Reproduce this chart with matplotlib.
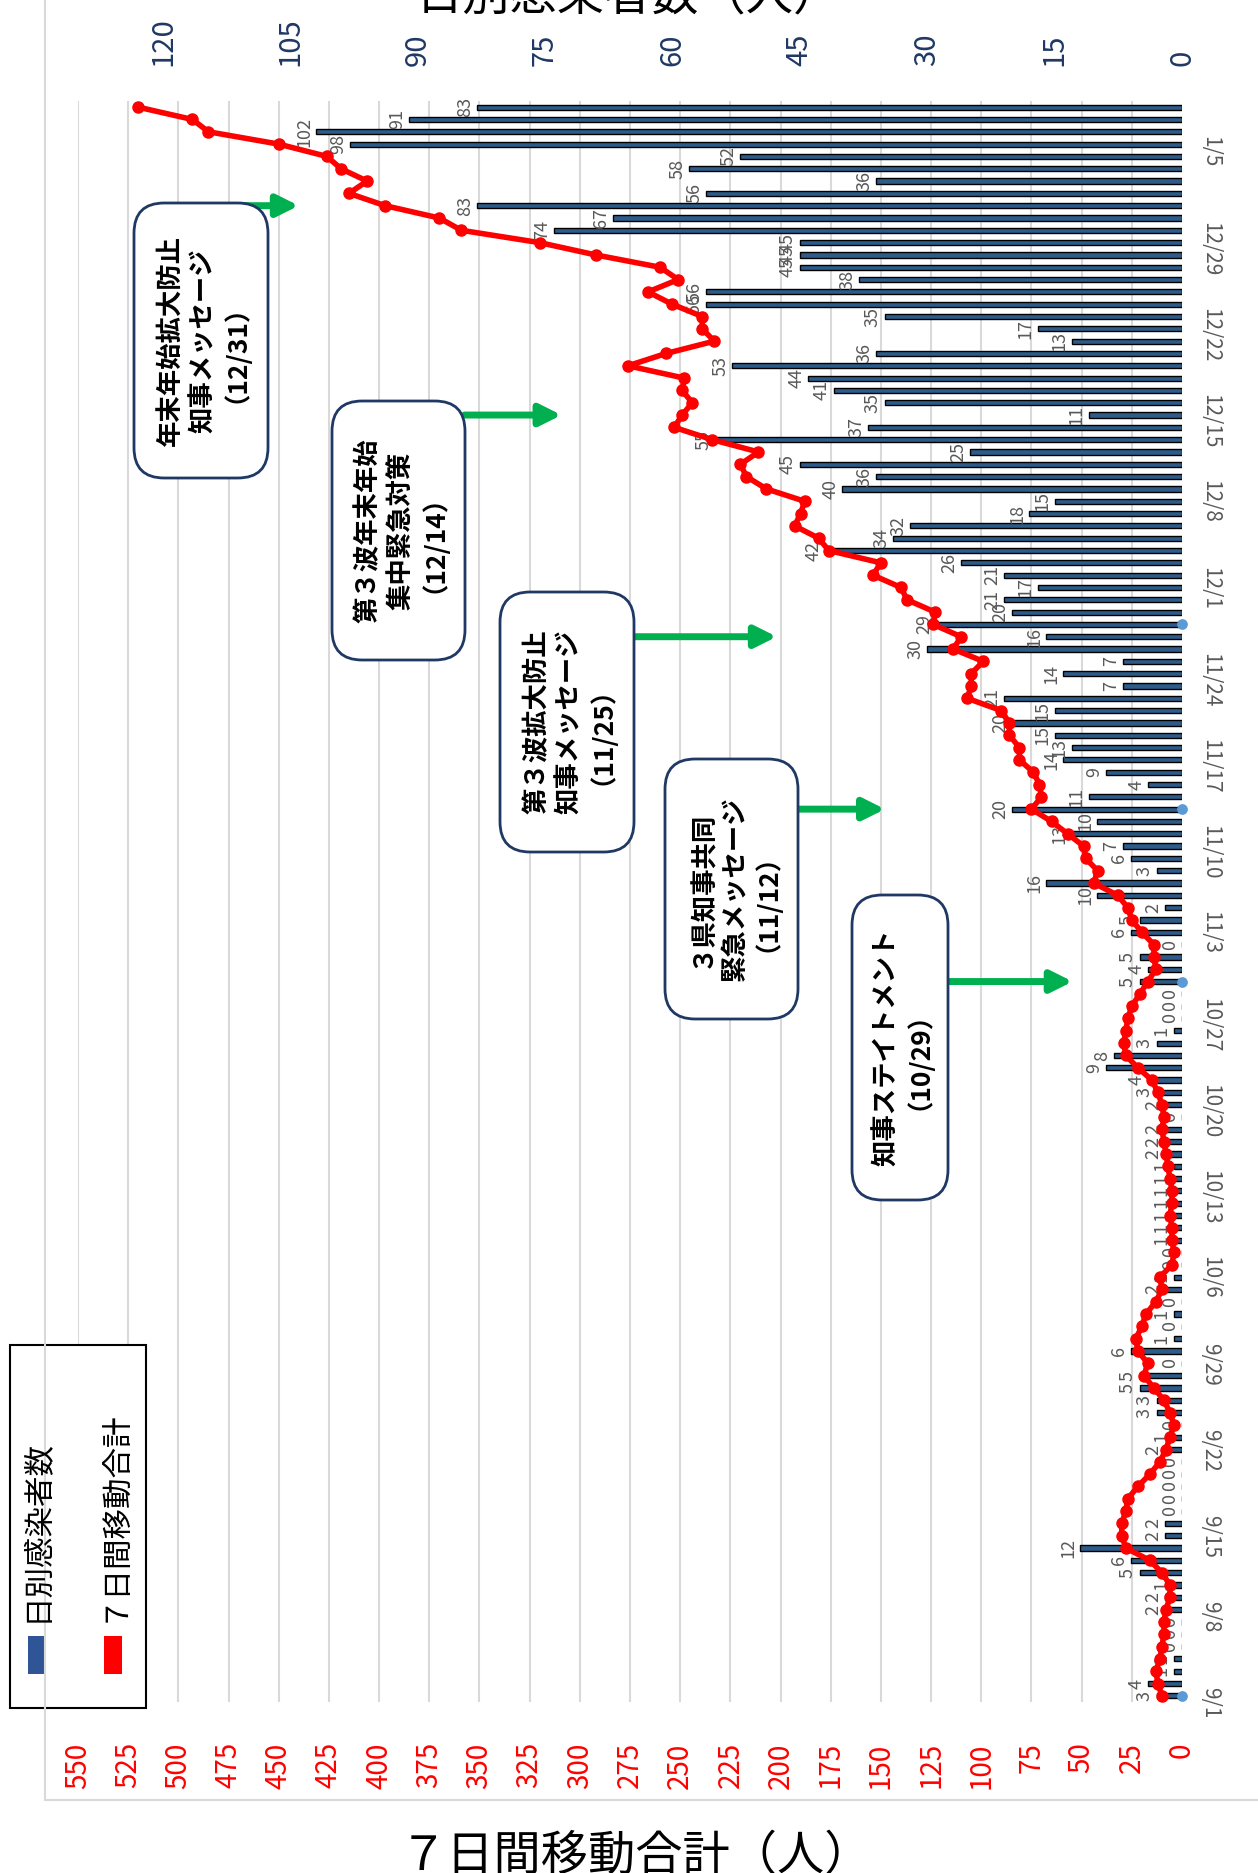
#------------------------------------------------------------------------------------------------------------------
#   Daily infections and 7-day moving total (rotated layout)
#------------------------------------------------------------------------------------------------------------------

import numpy as np
import matplotlib
matplotlib.use('Agg')
import matplotlib.pyplot as plt
from matplotlib.patches import FancyBboxPatch, Rectangle
from matplotlib.lines import Line2D
import matplotlib.transforms as mtransforms

plt.rcParams['font.family'] = ['Noto Sans CJK JP', 'DejaVu Sans']

#------------------------------------------------------------------------------------------------------------------
#   Data (9/1 .. 1/8)
#------------------------------------------------------------------------------------------------------------------
daily_sep = [3, 4, 1, 1, 0, 0, 0, 2, 2, 1, 5, 6, 12, 2, 2, 0, 0, 0, 0, 0, 2, 1, 0, 3, 3, 5, 5, 0, 6, 1]
daily_oct = [0, 1, 0, 2, 1, 0, 0, 1, 1, 1, 1, 1, 1, 1, 2, 2, 2, 0, 2, 3, 4, 9, 8, 3, 1, 0, 0, 0, 5, 4, 5]
daily_nov = [0, 6, 5, 2, 10, 16, 3, 6, 7, 13, 10, 20, 11, 4, 9, 14, 13, 15, 20, 15, 21, 7, 14, 7, 30, 16, 29,
             20, 21, 17]
daily_dec = [21, 26, 42, 34, 32, 18, 15, 40, 36, 45, 25, 55, 37, 11, 35, 41, 44, 53, 36, 13, 17, 35, 56, 56, 38,
             45, 45, 45, 74, 67, 83]
daily_jan = [56, 36, 58, 52, 98, 102, 91, 83]

ma_sep = [10, 12, 13, 11, 10, 9, 9, 8, 6, 6, 10, 16, 28, 30, 30, 28, 27, 22, 16, 11, 8, 6, 4, 6, 9, 14, 19, 17,
          22, 23]
ma_oct = [20, 18, 13, 10, 11, 5, 4, 5, 5, 6, 5, 5, 6, 7, 8, 9, 10, 9, 10, 12, 15, 22, 28, 29, 28, 27, 25, 21, 17,
          13, 14]
ma_nov = [14, 20, 25, 27, 32, 44, 42, 48, 49, 57, 65, 75, 70, 71, 74, 81, 81, 86, 86, 90, 107, 105, 105, 99, 114,
          110, 124, 123, 137, 140]
ma_dec = [154, 150, 176, 181, 193, 190, 188, 207, 217, 220, 211, 234, 253, 249, 244, 249, 248, 276, 257, 233, 239,
          239, 254, 266, 251, 260, 292, 320, 359, 370, 397]
ma_jan = [415, 406, 419, 426, 450, 485, 493, 520]

daily = daily_sep + daily_oct + daily_nov + daily_dec + daily_jan
moving7 = ma_sep + ma_oct + ma_nov + ma_dec + ma_jan

date_ticks = ['9/1', '9/8', '9/15', '9/22', '9/29', '10/6', '10/13', '10/20', '10/27', '11/3', '11/10',
              '11/17', '11/24', '12/1', '12/8', '12/15', '12/22', '12/29', '1/5']
blue_ticks = [0, 15, 30, 45, 60, 75, 90, 105, 120]
red_ticks = list(range(0, 551, 25))

# day index (from 9/1) of the small blue markers on the zero line
dot_days = [0, 58, 72, 87]

# annotations: text lines, day index where the arrow points
event_lines = [['年末年始拡大防止', '知事メッセージ', '（12/31）'],
               ['第３波年末年始', '集中緊急対策', '（12/14）'],
               ['第３波拡大防止', '知事メッセージ', '（11/25）'],
               ['３県知事共同', '緊急メッセージ', '（11/12）'],
               ['知事ステイトメント', '（10/29）']]
event_days = [121, 104, 86, 72, 58]

#------------------------------------------------------------------------------------------------------------------
#   Layout helpers (pixel positions in the 1258x1873 output)
#------------------------------------------------------------------------------------------------------------------
W, H = 1258, 1873
def fx(px):
    return px / W
def fy(py):
    return 1 - py / H

fig = plt.figure(figsize=(W / 100, H / 100), dpi=100)
ax = fig.add_axes([fx(78), fy(1702), (1182 - 78) / W, (1702 - 101) / H])
ax2 = ax.twiny()

n = len(daily)
days = np.arange(n)

#------------------------------------------------------------------------------------------------------------------
#   Bars (daily) on the blue axis
#------------------------------------------------------------------------------------------------------------------
ax.set_xlim(130, 0)
ax.set_ylim(-0.5, n - 0.5)
ax.set_xticks(np.linspace(0, 130, 23), minor=True)
ax.grid(which='minor', axis='x', color='#D9D9D9', lw=1.5)
ax.set_axisbelow(True)

ax.barh(days, daily, height=0.42, color='#2E5C8A', edgecolor='black', lw=1.0, zorder=2)
for d, v in zip(days, daily):
    ax.annotate(str(v), (v, d), xytext=(-2, 0), textcoords='offset points', rotation=90,
                ha='right', va='center', fontsize=13, color='#595959')

ax.scatter(np.zeros(len(dot_days)), dot_days, s=45, color='#5B9BD5', zorder=4, clip_on=False)

ax.xaxis.set_ticks_position('top')
ax.xaxis.set_label_position('top')
ax.set_xticks(blue_ticks)
ax.tick_params(axis='x', which='both', length=0, pad=25, labelsize=21, labelcolor='#1F3864', labelrotation=90,
               labeltop=True, labelbottom=False)
ax.yaxis.tick_right()
ax.set_yticks(np.arange(0, n, 7)[:len(date_ticks)])
ax.set_yticklabels(date_ticks)
ax.tick_params(axis='y', length=0, pad=12, labelsize=15, labelcolor='#595959', labelrotation=270)
for sp in ax.spines.values():
    sp.set_visible(False)

#------------------------------------------------------------------------------------------------------------------
#   7-day moving total on the red axis
#------------------------------------------------------------------------------------------------------------------
ax2.set_xlim(550, 0)
ax2.plot(moving7, days, color='#FF0000', lw=4, marker='o', ms=8, zorder=3)
ax2.xaxis.set_ticks_position('bottom')
ax2.set_xticks(red_ticks)
ax2.tick_params(axis='x', length=0, pad=29, labelsize=20, labelcolor='#FF0000', labelrotation=90,
                labelbottom=True, labeltop=False)
for sp in ax2.spines.values():
    sp.set_visible(False)

#------------------------------------------------------------------------------------------------------------------
#   Annotation boxes and arrows
#------------------------------------------------------------------------------------------------------------------
box_px = [(134, 203, 268, 478), (332, 401, 465, 660), (500, 592, 634, 852),
          (665, 759, 798, 1019), (852, 895, 948, 1200)]
arrow_x = [(0.150, 0.200), (0.350, 0.438), (0.504, 0.633), (0.652, 0.731), (0.788, 0.901)]
blend = mtransforms.blended_transform_factory(ax.transAxes, ax.transData)
line_step = 33

for (x0, y0, x1, y1), lines, ed, (a0, a1) in zip(box_px, event_lines, event_days, arrow_x):
    box = FancyBboxPatch((fx(x0), fy(y1)), fx(x1) - fx(x0), fy(y0) - fy(y1),
                         boxstyle='round,pad=0,rounding_size=0.024', mutation_aspect=W / H,
                         transform=fig.transFigure, facecolor='white', edgecolor='#1F3864', lw=2, zorder=5)
    fig.add_artist(box)
    cx, cy = (x0 + x1) / 2, (y0 + y1) / 2
    k = len(lines)
    for i, t in enumerate(lines):
        px = cx + (i - (k - 1) / 2) * line_step + 3
        if t.startswith('（'):
            px -= 14
        fig.text(fx(px), fy(cy), t, rotation=90, ha='center', va='center',
                 fontsize=19, fontweight='bold', zorder=6)
    ax.annotate('', xy=(a1, ed), xytext=(a0, ed), xycoords=blend, textcoords=blend,
                arrowprops=dict(arrowstyle='-|>', color='#00B050', lw=5, mutation_scale=32,
                                shrinkA=0, shrinkB=0), zorder=6, annotation_clip=False)

#------------------------------------------------------------------------------------------------------------------
#   Legend, axis titles, chart border
#------------------------------------------------------------------------------------------------------------------
fig.add_artist(Rectangle((fx(10), fy(1708)), fx(146) - fx(10), fy(1345) - fy(1708), transform=fig.transFigure,
                         facecolor='white', edgecolor='black', lw=1.5))
fig.add_artist(Rectangle((fx(28), fy(1674)), fx(18), fy(1636) - fy(1674), transform=fig.transFigure,
                         facecolor='#2F5597', edgecolor='none'))
fig.add_artist(Rectangle((fx(104), fy(1674)), fx(18), fy(1636) - fy(1674), transform=fig.transFigure,
                         facecolor='#FF0000', edgecolor='none'))
fig.text(fx(37), fy(1622), '日別感染者数', rotation=90, ha='center', va='bottom', fontsize=22)
fig.text(fx(113), fy(1622), '７日間移動合計', rotation=90, ha='center', va='bottom', fontsize=22)

fig.text(fx(636), fy(1832), '７日間移動合計（人）', ha='center', va='top', fontsize=34)
fig.text(fx(628), fy(20), '日別感染者数（人）', ha='center', va='bottom', fontsize=34)

fig.add_artist(Line2D([fx(45), fx(45)], [fy(1800), 1.0], transform=fig.transFigure, color='#D9D9D9', lw=1.5))
fig.add_artist(Line2D([fx(45), 1.0], [fy(1800), fy(1800)], transform=fig.transFigure, color='#D9D9D9', lw=1.5))

fig.savefig('out.png', dpi=100, facecolor='white')
